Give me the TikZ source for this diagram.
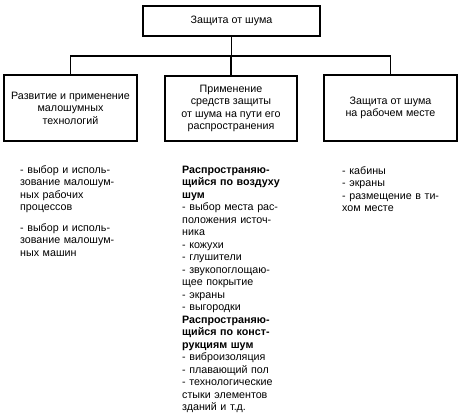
\documentclass[tikz,border=0pt]{standalone}
\usepackage{fontspec}
\setmainfont{Liberation Sans}
\begin{document}
\begin{tikzpicture}[x=1pt,y=-1pt,
  box/.style={draw,line width=1.7pt,inner sep=0pt,align=center,font=\fontsize{10.7}{12.4}\selectfont},
  item/.style={anchor=base west,inner sep=0pt,align=left,text width=140pt,font=\fontsize{10.7}{12.5}\selectfont},
  conn/.style={line width=1.7pt}]
\useasboundingbox (0,0) rectangle (464,420);
\node[box,minimum width=177pt,minimum height=30pt] (top) at (231.5,21) {Защита от шума};
\node[box,minimum width=133pt,minimum height=66pt] (left) at (70.5,108) {Развитие и применение\\малошумных\\технологий};
\node[box,minimum width=132pt,minimum height=65pt] (mid) at (231,108.5) {Применение\\средств защиты\\от шума на пути его\\распространения};
\node[box,minimum width=133pt,minimum height=66pt] (right) at (390.5,108) {Защита от шума\\на рабочем месте};
\coordinate (bus) at (0,56);
\draw[conn] (top.south) -- (top.south |- bus);
\draw[conn] (left.north) -- (left.north |- bus) -- (right.north |- bus) -- (right.north);
\draw[conn] (mid.north) -- (mid.north |- bus);
\node[item] (l1) at (20,173.5) {- выбор и исполь-\\зование малошум-\\ных рабочих\\процессов};
\node[item] (l2) at (20,231) {- выбор и исполь-\\зование малошум-\\ных машин};
\node[item] (m1) at (182,173.5) {\textbf{Распространяю-}\\\textbf{щийся по воздуху}\\\textbf{шум}\\- выбор места рас-\\положения источ-\\ника\\- кожухи\\- глушители\\- звукопоглощаю-\\щее покрытие\\- экраны\\- выгородки\\\textbf{Распространяю-}\\\textbf{щийся по конст-}\\\textbf{рукциям шум}\\- виброизоляция\\- плавающий пол\\- технологические\\стыки элементов\\зданий и т.д.};
\node[item] (r1) at (342,174.5) {- кабины\\- экраны\\- размещение в ти-\\хом месте};
\end{tikzpicture}
\end{document}
